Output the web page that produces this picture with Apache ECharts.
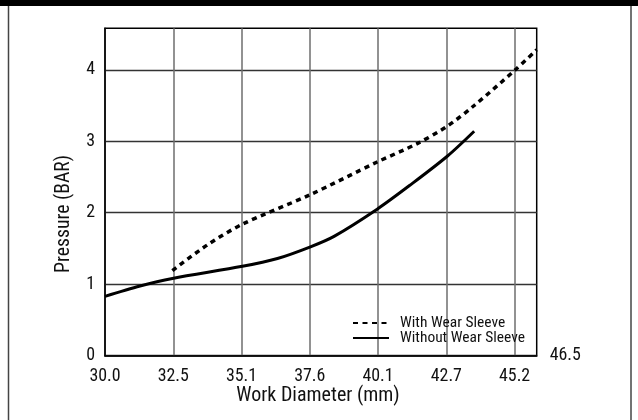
<!DOCTYPE html>
<html>
<head>
<meta charset="utf-8">
<script src="https://cdn.jsdelivr.net/npm/echarts@6/dist/echarts.min.js"></script>
<style>
html,body{margin:0;padding:0;background:#fff;}
#chart{width:638px;height:420px;}
</style>
</head>
<body>
<div id="chart"></div>
<script>
// ---- data ----
const xTickValues = [30.0, 32.5333, 35.0667, 37.6, 40.1333, 42.6667, 45.2];
const xTickLabels = ['30.0', '32.5', '35.1', '37.6', '40.1', '42.7', '45.2'];
const xEndLabel = '46.5';
const yTicks = [0, 1, 2, 3, 4];

const withSleeveX = [32.5, 33.8, 35.1, 37.6, 40.1, 41.6, 42.7, 43.7, 45.2, 46.02];
const withSleeveY = [1.19, 1.55, 1.84, 2.25, 2.71, 2.97, 3.21, 3.50, 3.99, 4.28];

const withoutSleeveX = [30.0, 31.3, 32.5, 35.1, 36.4, 37.6, 38.5, 40.1, 41.3, 42.7, 43.7];
const withoutSleeveY = [0.83, 0.975, 1.08, 1.25, 1.36, 1.52, 1.67, 2.05, 2.38, 2.79, 3.14];

const seriesNames = ['With Wear Sleeve', 'Without Wear Sleeve'];
const xTitle = 'Work Diameter (mm)';
const yTitle = 'Pressure (BAR)';

// ---- font selection (condensed face if available) ----
const cv = document.createElement('canvas').getContext('2d');
function w(font, txt) { cv.font = font; return cv.measureText(txt).width; }
function available(name) {
  const probe = 'Work Diameter (mm) 30.0 WwIl';
  return ['monospace', 'serif', 'sans-serif'].some(b =>
    Math.abs(w('100px "' + name + '", ' + b, probe) - w('100px ' + b, probe)) > 0.5) &&
    Math.abs(w('100px "' + name + '", monospace', probe) - w('100px monospace', probe)) > 0.5;
}
const candidates = ['Liberation Sans Narrow', 'Roboto Condensed', 'Nimbus Sans Narrow', 'Arial Narrow', 'DejaVu Sans Condensed', 'Liberation Sans'];
const face = candidates.find(available) || 'DejaVu Sans Condensed';
const FONT = '"' + face + '", sans-serif';
function fitSize(txt, target, cap) {
  const s = 100 * target / w('100px ' + FONT, txt);
  return Math.min(cap, s);
}
const tickSizeW = fitSize('30.0', 31, 20);
const tickSize = Math.min(20, (tickSizeW + 20) / 2 - 1);
const xTitleSize = fitSize(xTitle, 168, 20);
const yTitleSize = fitSize(yTitle, 118, 20);
const legendSize = fitSize('Without Wear Sleeve', 125, 16);

const zip = (xs, ys) => xs.map((x, i) => [x, ys[i]]);

const chart = echarts.init(document.getElementById('chart'), null, {renderer: 'canvas'});
chart.setOption({
  animation: false,
  backgroundColor: '#fff',
  textStyle: {fontFamily: FONT},
  grid: {
    left: 105, top: 28.3, right: 101.3, bottom: 64.3,
    show: true, borderColor: '#000', borderWidth: 1.5,
    outerBoundsMode: 'none'
  },
  xAxis: {
    type: 'value',
    min: 30, max: 46.02,
    name: xEndLabel,
    nameLocation: 'end',
    nameGap: 13,
    nameTextStyle: {fontFamily: FONT, fontSize: tickSize, color: '#111'},
    axisLine: {show: true, lineStyle: {color: '#000', width: 1.5}},
    axisTick: {show: false, customValues: xTickValues},
    axisLabel: {
      customValues: xTickValues,
      formatter: v => { const i = xTickValues.findIndex(t => Math.abs(t - v) < 1e-3); return i >= 0 ? xTickLabels[i] : ''; },
      fontFamily: FONT, fontSize: tickSize, color: '#111', margin: 12
    },
    splitLine: {show: true, lineStyle: {color: '#6e6e6e', width: 1.5}}
  },
  yAxis: {
    type: 'value',
    min: 0, max: 4.58,
    interval: 1,
    axisLine: {show: true, lineStyle: {color: '#000', width: 1.5}},
    axisTick: {show: false, customValues: yTicks},
    axisLabel: {
      customValues: yTicks,
      formatter: v => (yTicks.indexOf(v) >= 0 ? String(v) : ''),
      fontFamily: FONT, fontSize: tickSize, color: '#111', margin: 10
    },
    splitLine: {show: true, lineStyle: {color: '#333', width: 1.3}}
  },
  legend: {
    orient: 'vertical',
    left: 352, top: 315.6,
    itemWidth: 36, itemHeight: 14, itemGap: 0,
    padding: 0,
    itemStyle: {opacity: 0},
    textStyle: {fontFamily: FONT, fontSize: legendSize, color: '#111', lineHeight: 14.7, padding: [0, 0, 0, 6]},
    data: seriesNames
  },
  series: [
    {
      name: seriesNames[0],
      type: 'line',
      data: zip(withSleeveX, withSleeveY),
      smooth: 0.3,
      symbol: 'none',
      lineStyle: {color: '#000', width: 3.5, type: [5, 4.5]},
      itemStyle: {color: '#000'}
    },
    {
      name: seriesNames[1],
      type: 'line',
      data: zip(withoutSleeveX, withoutSleeveY),
      smooth: 0.3,
      symbol: 'none',
      lineStyle: {color: '#000', width: 3},
      itemStyle: {color: '#000'}
    }
  ],
  graphic: [
    {type: 'rect', left: 0, top: 0, shape: {width: 638, height: 6}, style: {fill: '#000'}, silent: true},
    {type: 'line', shape: {x1: 8.5, y1: 6, x2: 8.5, y2: 420}, style: {stroke: '#444', lineWidth: 1.5}, silent: true},
    {type: 'line', shape: {x1: 631, y1: 6, x2: 631, y2: 420}, style: {stroke: '#444', lineWidth: 1.5}, silent: true},
    {type: 'text', x: 318, y: 396, style: {text: xTitle, font: xTitleSize + 'px ' + FONT, fill: '#111', textAlign: 'center', textVerticalAlign: 'middle'}, silent: true},
    {type: 'text', x: 64, y: 214, rotation: Math.PI / 2, style: {text: yTitle, font: yTitleSize + 'px ' + FONT, fill: '#111', textAlign: 'center', textVerticalAlign: 'middle'}, silent: true}
  ]
});
</script>
</body>
</html>
